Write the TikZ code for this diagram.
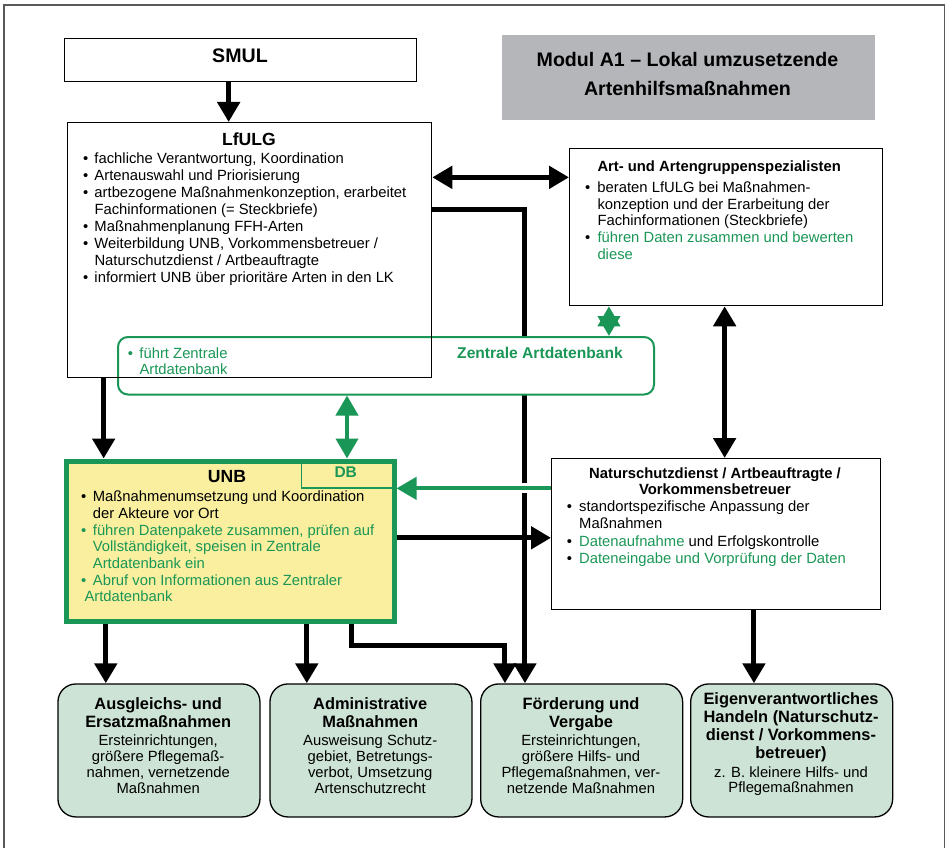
\documentclass[tikz,border=0pt]{standalone}
\usepackage{fontspec}
\setmainfont{Liberation Sans}
\usetikzlibrary{arrows.meta}
\pgfdeclarelayer{back}
\pgfsetlayers{back,main}
\definecolor{dbgreen}{RGB}{26,150,86}
\definecolor{unbyellow}{RGB}{249,239,158}
\definecolor{actorgreen}{RGB}{205,227,213}
\definecolor{titlegray}{RGB}{181,182,186}
\newcommand{\fsz}[2]{\fontsize{#1}{#2}\selectfont}
\newcommand{\gr}[1]{\textcolor{dbgreen}{#1}}

\begin{document}
\begin{tikzpicture}[
        x=1pt, y=-1pt,
        >={Triangle[length=20pt, width=22pt]},
        box/.style={draw=black, line width=1.3pt, anchor=north west, inner sep=0pt},
        actor/.style={box, rounded corners=18pt, fill=actorgreen, minimum width=202pt, minimum height=133pt},
        txt/.style={inner sep=0pt, anchor=base, font=\fsz{14.8}{16.7}},
        head/.style={txt, font=\bfseries\fsz{17.6}{20}},
        list/.style={txt, anchor=base west},
        flow/.style={line width=5pt, ->},
        flowboth/.style={line width=5pt, <->},
        dataflow/.style={line width=4pt, draw=dbgreen, ->},
        databoth/.style={line width=4pt, draw=dbgreen, <->},
    ]
    \useasboundingbox (0,0) rectangle (947,848);
    \draw[black!65, line width=1.3pt] (4,5) rectangle (944.5,880);

    % Top boxes
    \node[box, minimum width=352pt, minimum height=43pt] (smul) at (64,38) {};
    \node[head, font=\bfseries\fsz{19.6}{24}] (smul-t) at (240,63) {SMUL};
    \node[box, draw=none, fill=titlegray, minimum width=373pt, minimum height=85pt] (modul) at (501,34) {};
    \node[txt, font=\bfseries\fsz{19.6}{28.3}] (modul-t) at (687.5,67) {\begin{tabular}[t]{@{}c@{}}Modul A1 – Lokal umzusetzende\\Artenhilfsmaßnahmen\end{tabular}};

    % Zentrale Artdatenbank (under the LfULG frame)
    \node[box, draw=dbgreen, line width=2pt, rounded corners=10pt, fill=white, minimum width=536pt, minimum height=57.5pt] (zdb) at (117,336) {};
    \node[list, font=\fsz{14.8}{16}, text=dbgreen] (zdb-list) at (127.7,358) {\begin{tabular}[t]{@{}p{11.6pt}@{}l@{}}\textbullet & führt Zentrale\\ & Artdatenbank\end{tabular}};
    \node[txt, font=\bfseries\fsz{15.6}{18}, text=dbgreen] (zdb-t) at (540,358) {Zentrale Artdatenbank};

    % LfULG
    \node[box, minimum width=364pt, minimum height=255pt] (lfulg) at (67,122) {};
    \node[head] (lfulg-t) at (249,145) {LfULG};
    \node[list, font=\fsz{14.8}{17.1}] (lfulg-list) at (83,163) {\begin{tabular}[t]{@{}p{11.3pt}@{}l@{}}
        \textbullet & fachliche Verantwortung, Koordination\\
        \textbullet & Artenauswahl und Priorisierung\\
        \textbullet & artbezogene Maßnahmenkonzeption, erarbeitet\\
                    & Fachinformationen (= Steckbriefe)\\
        \textbullet & Maßnahmenplanung FFH-Arten\\
        \textbullet & Weiterbildung UNB, Vorkommensbetreuer /\\
                    & Naturschutzdienst / Artbeauftragte\\
        \textbullet & informiert UNB über prioritäre Arten in den LK
    \end{tabular}};

    % Spezialisten
    \node[box, minimum width=313pt, minimum height=157pt] (art) at (569,148) {};
    \node[list, font=\bfseries\fsz{14.8}{16.7}] (art-t) at (597.3,171.7) {Art- und Artengruppenspezialisten};
    \node[list] (art-list) at (585,192.3) {\begin{tabular}[t]{@{}p{12.3pt}@{}l@{}}
        \textbullet & beraten LfULG bei Maßnahmen-\\
                    & konzeption und der Erarbeitung der\\
                    & Fachinformationen (Steckbriefe)\\
        \textbullet & \gr{führen Daten zusammen und bewerten}\\
                    & \gr{diese}
    \end{tabular}};

    % UNB
    \node[box, draw=dbgreen, line width=5pt, fill=unbyellow, minimum width=328pt, minimum height=160pt] (unb) at (63.5,458.5) {};
    \node[box, draw=dbgreen, line width=1.2pt, minimum width=90.5pt, minimum height=28.8pt] (db) at (301,458.5) {};
    \node[txt, font=\bfseries\fsz{15.5}{18}, text=dbgreen] (db-t) at (345.7,477.8) {DB};
    \node[head] (unb-t) at (227,482) {UNB};
    \node[list] (unb-list) at (81,501.7) {\begin{tabular}[t]{@{}p{11.7pt}@{}l@{}}
        \textbullet & Maßnahmenumsetzung und Koordination\\
                    & der Akteure vor Ort\\
        \gr{\textbullet} & \gr{führen Datenpakete zusammen, prüfen auf}\\
                    & \gr{Vollständigkeit, speisen in Zentrale}\\
                    & \gr{Artdatenbank ein}\\
        \gr{\textbullet} & \gr{Abruf von Informationen aus Zentraler}\\
        \multicolumn{2}{@{}l@{}}{\hspace*{3.3pt}\gr{Artdatenbank}}
    \end{tabular}};

    % Naturschutzdienst
    \node[box, minimum width=329pt, minimum height=151pt] (natur) at (551,458) {};
    \node[txt, font=\bfseries\fsz{14.8}{16.3}] (natur-t) at (715,478) {\begin{tabular}[t]{@{}c@{}}Naturschutzdienst / Artbeauftragte /\\Vorkommensbetreuer\end{tabular}};
    \node[list, font=\fsz{14.8}{17.2}] (natur-list) at (566.7,511.7) {\begin{tabular}[t]{@{}p{12.3pt}@{}l@{}}
        \textbullet & standortspezifische Anpassung der\\
                    & Maßnahmen\\
        \textbullet & \gr{Datenaufnahme} und Erfolgskontrolle\\
        \textbullet & \gr{Dateneingabe und Vorprüfung der Daten}
    \end{tabular}};

    % Bottom row of measures
    \foreach \name / \x in {ausgl/57.3, admin/269.3, foerd/480, eigen/690}
        \node[actor] (\name) at (\x,683.3) {};

    \node[txt, font=\bfseries\fsz{16.4}{18}] (ausgl-t) at (158.2,709.5) {\begin{tabular}[t]{@{}c@{}}Ausgleichs- und\\Ersatzmaßnahmen\end{tabular}};
    \node[txt, font=\fsz{14.8}{16.3}] (ausgl-b) at (158.2,745) {\begin{tabular}[t]{@{}c@{}}Ersteinrichtungen,\\größere Pflegemaß-\\nahmen, vernetzende\\Maßnahmen\end{tabular}};
    \node[txt, font=\bfseries\fsz{16.4}{18}] (admin-t) at (370.2,709.5) {\begin{tabular}[t]{@{}c@{}}Administrative\\Maßnahmen\end{tabular}};
    \node[txt, font=\fsz{14.8}{16.3}] (admin-b) at (370.2,745) {\begin{tabular}[t]{@{}c@{}}Ausweisung Schutz-\\gebiet, Betretungs-\\verbot, Umsetzung\\Artenschutzrecht\end{tabular}};
    \node[txt, font=\bfseries\fsz{16.4}{18}] (foerd-t) at (581,709.5) {\begin{tabular}[t]{@{}c@{}}Förderung und\\Vergabe\end{tabular}};
    \node[txt, font=\fsz{14.8}{16.3}] (foerd-b) at (581,745) {\begin{tabular}[t]{@{}c@{}}Ersteinrichtungen,\\größere Hilfs- und\\Pflegemaßnahmen, ver-\\netzende Maßnahmen\end{tabular}};
    \node[txt, font=\bfseries\fsz{16.4}{18.3}] (eigen-t) at (791,704) {\begin{tabular}[t]{@{}c@{}}Eigenverantwortliches\\Handeln (Naturschutz-\\dienst / Vorkommens-\\betreuer)\end{tabular}};
    \node[txt, font=\fsz{14.8}{15.8}] (eigen-b) at (791,777) {\begin{tabular}[t]{@{}c@{}}z. B. kleinere Hilfs- und\\Pflegemaßnahmen\end{tabular}};

    % Connectors
    \coordinate (smul-out) at ([xshift=-12pt]smul.south);
    \draw[flow] (smul-out) -- (smul-out |- lfulg.north);
    \coordinate (art-in) at ([yshift=49.8pt]art.west);
    \draw[flowboth] (art-in -| lfulg.east) -- (art-in);
    \coordinate (lfulg-out) at ([yshift=40.2pt]lfulg.east);
    \coordinate (foerd-in1) at ([xshift=-56.7pt]foerd.north);
    \begin{pgfonlayer}{back}
        \draw[flow] (lfulg-out) -| (foerd-in1);
        % gap where the data line crosses
        \fill[white] (518,482.7) rectangle (531,492.7);
    \end{pgfonlayer}
    \coordinate (lfulg-down) at ([xshift=-146pt]lfulg.south);
    \draw[flow] (lfulg-down) -- (lfulg-down |- unb.north);
    \coordinate (zdb-down) at ([xshift=-39pt]zdb.south);
    \draw[databoth] (zdb-down) -- (zdb-down |- unb.north);
    \coordinate (art-down) at ([xshift=-117.2pt]art.south);
    \draw[databoth] (art-down) -- (art-down |- zdb.north);
    \coordinate (art-down2) at ([xshift=-1.5pt]art.south);
    \draw[flowboth] (art-down2) -- (art-down2 |- natur.north);
    \coordinate (natur-data) at ([yshift=45.8pt]natur.west);
    \draw[dataflow] (natur-data) -- (natur-data -| unb.east);
    \coordinate (unb-out) at ([yshift=3.2pt]unb.east);
    \draw[flow] (unb-out) -- (unb-out -| natur.west);
    \coordinate (unb-out2) at ([xshift=121.5pt]unb.south);
    \coordinate (foerd-in2) at ([xshift=-76.7pt]foerd.north);
    \draw[flow] (unb-out2) -- ++(0,22.2) -| (foerd-in2);
    \foreach \dx / \dest in {-124.2/ausgl, 76.8/admin}
        \draw[flow] ([xshift=\dx pt]unb.south) -- ([xshift=\dx pt]unb.south |- \dest.north);
    \coordinate (natur-down) at ([xshift=37.8pt]natur.south);
    \draw[flow] (natur-down) -- (natur-down |- eigen.north);
\end{tikzpicture}
\end{document}
